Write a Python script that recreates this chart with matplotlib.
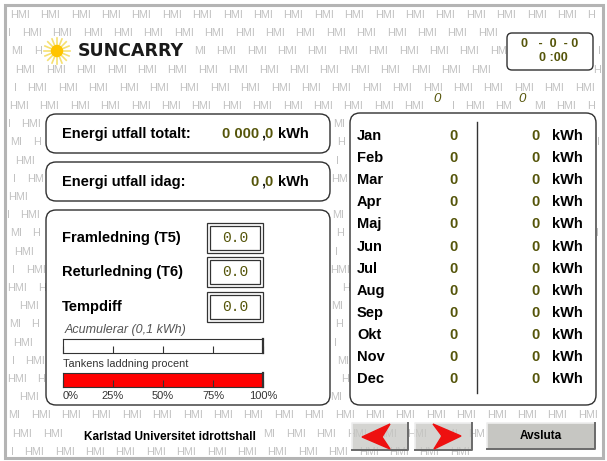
import math
import matplotlib.pyplot as plt
from matplotlib.patches import FancyBboxPatch, Rectangle, Circle, Polygon

# panel values
months = ['Jan', 'Feb', 'Mar', 'Apr', 'Maj', 'Jun', 'Jul', 'Aug', 'Sep', 'Okt', 'Nov', 'Dec']
month_vals_a = [0, 0, 0, 0, 0, 0, 0, 0, 0, 0, 0, 0]
month_vals_b = [0, 0, 0, 0, 0, 0, 0, 0, 0, 0, 0, 0]
header_vals = [0, 0]
energy_labels = ['Energi utfall totalt:', 'Energi utfall idag:']
energy_int = ['0 000', '0']
energy_dec = ['0', '0']
temp_labels = ['Framledning (T5)', 'Returledning (T6)', 'Tempdiff']
temp_vals = [0.0, 0.0, 0.0]
accum_value = 0
tank_percent = 100
pct_ticks = [0, 25, 50, 75, 100]
clock_date = '0   -  0  - 0'
clock_time = '0 :00'

OLIVE = '#55550a'
SANS = ['Liberation Sans', 'DejaVu Sans']
NARROW = ['Liberation Sans Narrow', 'Liberation Sans', 'DejaVu Sans']
W, H = 607, 461

fig = plt.figure(figsize=(W / 100, H / 100), dpi=100)
ax = fig.add_axes([0, 0, 1, 1])
ax.set_xlim(0, W)
ax.set_ylim(H, 0)
ax.axis('off')

# areas where the watermark is hidden
blockers = [
    (44, 38, 192, 64),      # logo
    (507, 33, 593, 70),     # clock
    (430, 92, 444, 106), (515, 92, 529, 106),
    (46, 114, 330, 153), (46, 162, 330, 201), (46, 210, 330, 405),
    (350, 113, 596, 405),
    (80, 428, 262, 446),    # footer label
    (487, 423, 595, 449),   # Avsluta
]


def hidden(x0, x1, y0, y1):
    if x0 < 6.5 or x1 > 602 or y0 < 6 or y1 > 457:
        return True
    for bx0, by0, bx1, by1 in blockers:
        if x1 > bx0 and x0 < bx1 and y1 > by0 and y0 < by1:
            return True
    return False


# HMI watermark
char_w = {'H': 7.82, 'M': 9.03, 'I': 3.01}
for i in range(25):
    y = 15 + i * 18.2
    x = (10 + 12 * i) % 30.4 - 30.4
    while x < W:
        pieces, cur, cx, start = [], '', x, None
        for ch in 'HMI':
            w = char_w[ch]
            if hidden(cx, cx + w, y - 4, y + 4):
                if cur:
                    pieces.append((start, cur))
                cur = ''
            else:
                if not cur:
                    start = cx
                cur += ch
            cx += w
        if cur:
            pieces.append((start, cur))
        for sx, s in pieces:
            ax.text(sx, y, s, fontsize=7.8, color='#c2c2c2', family=SANS,
                    ha='left', va='center', zorder=1)
        x += 30.4
ax.add_patch(Rectangle((5, 5), 598, 453, fill=False, ec='#b4b4b4', lw=2.2, zorder=2))


def rbox(x0, y0, x1, y1, r=10, lw=1.0):
    ax.add_patch(FancyBboxPatch((x0, y0), x1 - x0, y1 - y0,
                                boxstyle=f'round,pad=0,rounding_size={r}',
                                fc='white', ec='#303030', lw=lw, zorder=3))


# logo
for k in range(16):
    a = k * math.pi / 8
    ax.plot([57 + 6 * math.cos(a), 57 + 13 * math.cos(a)],
            [51 + 6 * math.sin(a), 51 + 13 * math.sin(a)],
            color='#f6e070', lw=1.2, zorder=4)
ax.add_patch(Circle((57, 51), 5.5, color='#ffc400', zorder=4))
ax.text(78, 51, 'SUNCARRY', fontsize=12.5, fontweight='bold', family=['DejaVu Sans'],
        color='#1a1a1a', ha='left', va='center', zorder=5)

# clock
rbox(507, 33, 593, 70, r=5)
ax.text(550, 44, clock_date, fontsize=9, family=NARROW, fontweight='bold', color=OLIVE,
        ha='center', va='center', zorder=5)
ax.text(553, 58, clock_time, fontsize=9, family=NARROW, fontweight='bold', color=OLIVE,
        ha='center', va='center', zorder=5)
for xv, v in zip([437, 522], header_vals):
    ax.text(xv, 99, str(v), fontsize=9.5, style='italic', family=SANS, color=OLIVE,
            ha='center', va='center', zorder=5)

# energy boxes
for (y0, y1), lab, vi, vd in zip([(114, 153), (162, 201)], energy_labels, energy_int, energy_dec):
    rbox(46, y0, 330, y1, r=10)
    yc = (y0 + y1) / 2
    ax.text(62, yc, lab, fontsize=10.5, fontweight='bold', family=SANS, ha='left',
            va='center', zorder=5)
    ax.text(259, yc, vi, fontsize=10.5, fontweight='bold', family=NARROW, color=OLIVE,
            ha='right', va='center', zorder=5)
    ax.text(263, yc, ',', fontsize=10.5, fontweight='bold', family=NARROW, color='#222',
            ha='center', va='center', zorder=5)
    ax.text(273, yc, vd, fontsize=10.5, fontweight='bold', family=NARROW, color=OLIVE,
            ha='right', va='center', zorder=5)
    ax.text(278, yc, 'kWh', fontsize=10.5, fontweight='bold', family=SANS, ha='left',
            va='center', zorder=5)

# temperature box
rbox(46, 210, 330, 405, r=10)
for (y0, y1), lab, v in zip([(223, 253), (257, 287), (292, 322)], temp_labels, temp_vals):
    yc = (y0 + y1) / 2
    ax.text(62, yc, lab, fontsize=10.5, fontweight='bold', family=SANS, ha='left',
            va='center', zorder=5)
    ax.add_patch(Rectangle((207, y0), 56, y1 - y0, fill=False, ec='#333', lw=0.9, zorder=4))
    ax.add_patch(Rectangle((210, y0 + 3), 50, y1 - y0 - 6, fill=False, ec='#333', lw=0.9, zorder=4))
    ax.text(235, yc, f'{v:.1f}', fontsize=10.5, family=['Liberation Mono', 'DejaVu Sans Mono'],
            color=OLIVE, ha='center', va='center', zorder=5)

ax.text(65, 330, 'Acumulerar (0,1 kWh)', fontsize=9, style='italic', family=SANS,
        color='#555555', ha='left', va='center', zorder=5)
ax.text(63, 364, 'Tankens laddning procent', fontsize=7.8, family=SANS,
        color='#333333', ha='left', va='center', zorder=5)


def bar_axes(y0, y1, value, color, labels):
    bx = fig.add_axes([63 / W, 1 - y1 / H, 200 / W, (y1 - y0) / H])
    bx.set_xlim(0, 100)
    bx.set_ylim(0, 1)
    bx.barh(0.5, value, height=1, left=0, color=color, zorder=1)
    bx.set_yticks([])
    bx.set_xticks(pct_ticks)
    bx.tick_params(axis='x', direction='in', length=5, width=0.8, color='#333', pad=3,
                   labelsize=8, labelcolor='#333')
    for s in bx.spines.values():
        s.set_color('#333')
        s.set_linewidth(0.8)
    bx.spines['right'].set_linewidth(1.6)
    if labels:
        bx.set_xticklabels([f'{p}%' for p in pct_ticks], family=SANS)
        bx.get_xticklabels()[0].set_horizontalalignment('left')
    else:
        bx.set_xticklabels([])
    return bx


bar_axes(339, 353, accum_value, 'white', False)
bar_axes(373, 387, tank_percent, '#ff0000', True)

# month box
rbox(350, 113, 596, 405, r=10)
ax.plot([477, 477], [122, 393], color='#333', lw=1.0, zorder=4)
for i, (m, a, b) in enumerate(zip(months, month_vals_a, month_vals_b)):
    y = 136 + i * 22.1
    ax.text(357, y, m, fontsize=10.5, fontweight='bold', family=SANS, ha='left',
            va='center', zorder=5)
    ax.text(453, y, str(a), fontsize=10.5, fontweight='bold', family=NARROW, color=OLIVE,
            ha='center', va='center', zorder=5)
    ax.text(540, y, str(b), fontsize=10.5, fontweight='bold', family=NARROW, color=OLIVE,
            ha='right', va='center', zorder=5)
    ax.text(552, y, 'kWh', fontsize=10.5, fontweight='bold', family=SANS, ha='left',
            va='center', zorder=5)

# footer
ax.add_patch(Rectangle((80, 428), 182, 18, color='white', zorder=3))
ax.text(84, 437, 'Karlstad Universitet idrottshall', fontsize=8.5, fontweight='bold',
        family=SANS, ha='left', va='center', zorder=5)


def button(x0, y0, x1, y1, alpha):
    ax.add_patch(Rectangle((x0, y0), x1 - x0, y1 - y0, fc='#c6c6c2', alpha=alpha,
                           ec='none', zorder=3))
    ax.plot([x0, x0, x1], [y1, y0, y0], color='#eeeeee', lw=1.2, zorder=4)
    ax.plot([x0, x1, x1], [y1, y1, y0], color='#6a6a6a', lw=1.4, zorder=4)


button(352, 423, 408, 450, 0.75)
button(415, 423, 472, 450, 0.75)
button(487, 423, 595, 449, 1.0)
ax.add_patch(Polygon([(362, 437), (390, 424), (382, 437), (390, 449)], color='#ee1010', zorder=5))
ax.add_patch(Polygon([(461, 436), (433, 424), (442, 436), (434, 449)], color='#ee1010', zorder=5))
ax.text(541, 436, 'Avsluta', fontsize=8.5, fontweight='bold', family=SANS,
        ha='center', va='center', zorder=5)

fig.savefig('out.png', dpi=100, facecolor='white')
